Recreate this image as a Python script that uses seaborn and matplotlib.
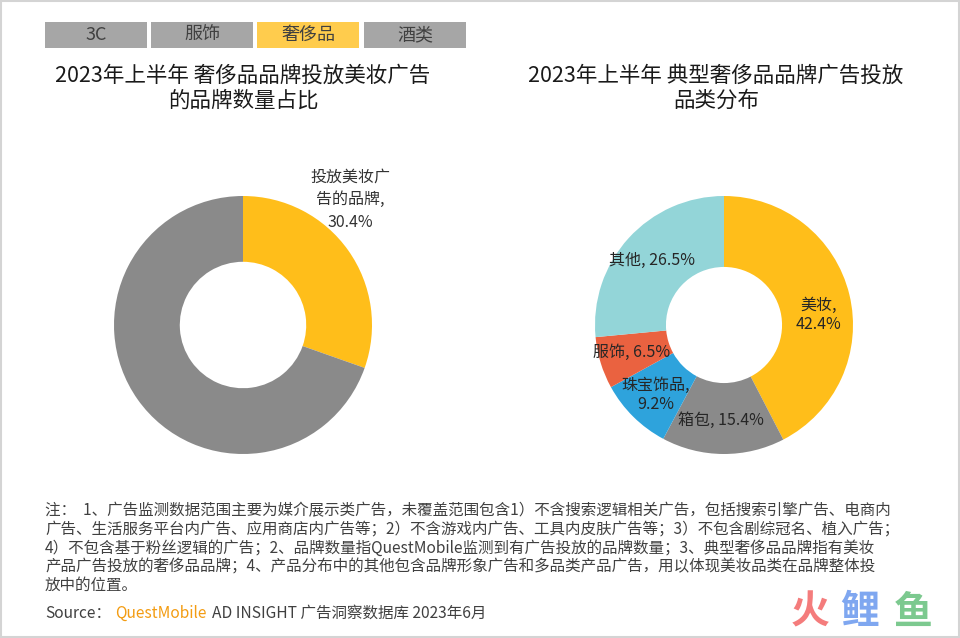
import matplotlib
matplotlib.use("Agg")
import matplotlib.pyplot as plt
import seaborn as sns
from matplotlib.patches import Rectangle

sns.set_theme(style="white")
plt.rcParams['font.family'] = ['Noto Sans CJK SC', 'DejaVu Sans']

# ---- data ----
tabs = ["3C", "服饰", "奢侈品", "酒类"]
active_tab = "奢侈品"

left_title = "2023年上半年 奢侈品品牌投放美妆广告\n的品牌数量占比"
left_labels = ["投放美妆广\n告的品牌,\n30.4%", ""]
left_values = [30.4, 69.6]

right_title = "2023年上半年 典型奢侈品品牌广告投放\n品类分布"
right_cats = ["美妆", "箱包", "珠宝饰品", "服饰", "其他"]
right_values = [42.4, 15.4, 9.2, 6.5, 26.5]

note = ("注：  1、广告监测数据范围主要为媒介展示类广告，未覆盖范围包含1）不含搜索逻辑相关广告，包括搜索引擎广告、电商内\n"
        "广告、生活服务平台内广告、应用商店内广告等；2）不含游戏内广告、工具内皮肤广告等；3）不包含剧综冠名、植入广告；\n"
        "4）不包含基于粉丝逻辑的广告；2、品牌数量指QuestMobile监测到有广告投放的品牌数量；3、典型奢侈品品牌指有美妆\n"
        "产品广告投放的奢侈品品牌；4、产品分布中的其他包含品牌形象广告和多品类产品广告，用以体现美妆品类在品牌整体投\n"
        "放中的位置。")

W, H = 960, 638
fig = plt.figure(figsize=(W / 100, H / 100), dpi=100)
fig.patch.set_facecolor("white")

def fx(x): return x / W
def fy(y): return 1 - y / H

# background axes in pixel coordinates
bg = fig.add_axes([0, 0, 1, 1], zorder=-10)
bg.set_xlim(0, W); bg.set_ylim(H, 0); bg.axis("off")
bg.add_patch(Rectangle((1, 1), W - 2.5, H - 2.5, fill=False, edgecolor="#d4d4d4", linewidth=1.5))

# tabs
tab_x = [45, 151, 257, 364]
for x, t in zip(tab_x, tabs):
    c = "#FFCC4D" if t == active_tab else "#A6A6A6"
    bg.add_patch(Rectangle((x, 22), 102, 26, facecolor=c, edgecolor="none"))
    bg.text(x + 51, 35, t, fontsize=13, color="#404040", ha="center", va="center")

# titles
bg.text(243, 88, left_title, fontsize=15.5, color="#1a1a1a", ha="center", va="center",
        linespacing=1.2)
bg.text(716, 88, right_title, fontsize=15.5, color="#1a1a1a", ha="center", va="center",
        linespacing=1.2)

R = 129
# left donut
axl = fig.add_axes([fx(243 - R), fy(325 + R), 2 * R / W, 2 * R / H])
axl.pie(left_values, colors=["#FFBE1A", "#8A8A8A"], startangle=90, counterclock=False,
        wedgeprops=dict(width=0.51, edgecolor="none"))
axl.set_xlim(-1, 1); axl.set_ylim(-1, 1)
axl.axis("off")
axl.text(0.83, 0.97, left_labels[0], fontsize=11.5, color="#333333", ha="center", va="center",
         linespacing=1.45, clip_on=False)

# right donut
axr = fig.add_axes([fx(724 - R), fy(325 + R), 2 * R / W, 2 * R / H])
rcolors = ["#FFBE1A", "#8A8A8A", "#2EA3DC", "#EA6240", "#93D5D8"]
axr.pie(right_values, colors=rcolors, startangle=90, counterclock=False,
        wedgeprops=dict(width=0.55, edgecolor="none"))
axr.set_xlim(-1, 1); axr.set_ylim(-1, 1)
axr.axis("off")
label_pos = [(0.73, 0.08), (-0.02, -0.74), (-0.53, -0.54), (-0.72, -0.21), (-0.56, 0.50)]
for (x, y), cat, v in zip(label_pos, right_cats, right_values):
    if cat in ("美妆", "珠宝饰品"):
        s = f"{cat},\n{v}%"
    else:
        s = f"{cat}, {v}%"
    axr.text(x, y, s, fontsize=11.5, color="#262626", ha="center", va="center",
             linespacing=1.15, clip_on=False)

# note
bg.text(45, 502, note, fontsize=11.2, color="#404040", ha="left", va="top",
        linespacing=1.13)
# source
bg.text(45, 613, "Source：", fontsize=11.2, color="#404040", ha="left", va="center")
bg.text(115, 613, "QuestMobile", fontsize=11.2, color="#F39C12", ha="left", va="center")
bg.text(212, 613, "AD INSIGHT 广告洞察数据库 2023年6月", fontsize=11.2, color="#404040",
        ha="left", va="center")

# logo
bg.text(810, 612, "火", fontsize=28, color="#F47C7C", ha="center", va="center", weight="bold")
bg.text(860, 612, "鲤", fontsize=28, color="#7FA7F0", ha="center", va="center", weight="bold")
bg.text(913, 612, "鱼", fontsize=28, color="#7CC98F", ha="center", va="center", weight="bold")

fig.savefig("out.png", dpi=100, facecolor="white")
